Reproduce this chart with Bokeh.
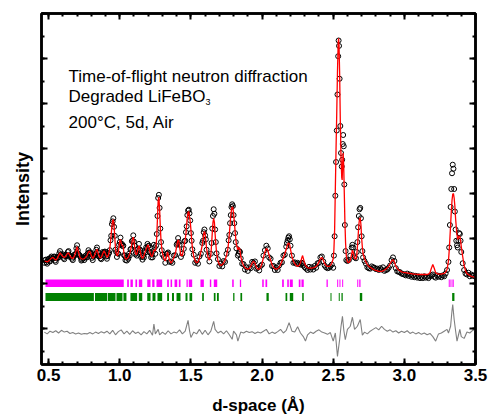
from bokeh.plotting import figure
from bokeh.models import LinearAxis, FixedTicker, Label, Range1d, NumeralTickFormatter
from bokeh.embed import file_html
from bokeh.resources import INLINE

# ---------------- data ----------------
dA = [0.47,0.48,0.49,0.50,0.51,0.52,0.53,0.54,0.55,0.56,0.57,0.58,0.59,0.60,0.61,0.62,0.63,0.64,0.65,0.66,
      0.67,0.68,0.69,0.70,0.71,0.72,0.73,0.74,0.75,0.76,0.77,0.78,0.79,0.80,0.81,0.82,0.83,0.84,0.85,0.86,
      0.87,0.88,0.89,0.90,0.91,0.92,0.93]
calcA = [1.50,1.49,1.48,1.50,1.53,1.56,1.58,1.55,1.52,1.55,1.62,1.68,1.64,1.60,1.58,1.60,1.66,1.68,1.62,1.57,
         1.56,1.60,1.70,1.82,1.70,1.58,1.55,1.54,1.55,1.58,1.62,1.70,1.72,1.62,1.56,1.60,1.70,1.76,1.65,1.57,
         1.58,1.66,1.73,1.66,1.58,1.62,1.78]
obsA = [1.46,1.53,1.44,1.55,1.49,1.60,1.55,1.60,1.48,1.59,1.58,1.72,1.62,1.65,1.54,1.64,1.62,1.72,1.59,1.61,
        1.52,1.64,1.66,1.85,1.66,1.62,1.51,1.58,1.52,1.62,1.58,1.74,1.68,1.66,1.52,1.64,1.66,1.80,1.61,1.61,
        1.54,1.70,1.69,1.70,1.55,1.66,1.74]
# additional observed points between the ones above (dense low-d data)
dA2 = [0.475,0.485,0.495,0.505,0.515,0.525,0.535,0.545,0.555,0.565,0.575,0.585,0.595,0.605,0.615,0.625,
       0.635,0.645,0.655,0.665,0.675,0.685,0.695,0.705,0.715,0.725,0.735,0.745,0.755,0.765,0.775,0.785,
       0.795,0.805,0.815,0.825,0.835,0.845,0.855,0.865,0.875,0.885,0.895,0.905,0.915,0.925]
obsA2 = [1.52,1.47,1.52,1.50,1.57,1.55,1.59,1.51,1.56,1.57,1.67,1.64,1.63,1.57,1.61,1.61,
         1.70,1.63,1.60,1.55,1.59,1.63,1.78,1.74,1.63,1.58,1.53,1.56,1.58,1.59,1.67,1.69,
         1.69,1.57,1.60,1.63,1.75,1.70,1.60,1.56,1.63,1.68,1.71,1.60,1.61,1.68]

dB = [0.935,0.940,0.945,0.950,0.955,0.960,0.965,0.970,0.975,0.980,
      0.985,0.990,0.995,1.000,1.005,1.010,1.015,1.020,1.025,1.030,
      1.035,1.040,1.045,1.050,1.055,1.060,1.065,1.070,1.075,1.080,
      1.085,1.090,1.095,1.100,1.105,1.110,1.115,1.120,1.125,1.130,
      1.135,1.140,1.145,1.150,1.155,1.160,1.165,1.170,1.175,1.180,
      1.185,1.190,1.195,1.200,1.205,1.210,1.215,1.220,1.225,1.230,
      1.235,1.240,1.245,1.250,1.255,1.260,1.265,1.270,1.275,1.280,
      1.285,1.290,1.295,1.300]
calcB = [1.92,2.10,2.28,2.40,2.42,2.30,2.02,1.78,1.66,1.62,
         1.63,1.70,1.82,1.95,1.98,1.90,1.84,1.86,1.80,1.66,
         1.58,1.55,1.54,1.55,1.56,1.58,1.62,1.66,1.72,1.80,
         1.90,1.98,2.03,1.96,1.80,1.68,1.64,1.66,1.72,1.80,
         1.84,1.80,1.70,1.62,1.58,1.56,1.58,1.62,1.68,1.72,
         1.76,1.80,1.84,1.86,1.80,1.72,1.66,1.62,1.60,1.62,
         1.68,1.74,1.75,1.72,1.80,2.05,2.45,2.85,2.92,2.65,
         2.25,1.95,1.78,1.68]
obsB = [1.96,2.06,2.32,2.38,2.45,2.26,2.06,1.75,1.70,1.59,
        1.67,1.66,1.86,1.92,2.02,1.87,1.88,1.83,1.84,1.63,
        1.62,1.52,1.58,1.51,1.60,1.55,1.66,1.62,1.76,1.77,
        1.94,1.95,2.07,1.93,1.84,1.65,1.68,1.62,1.76,1.77,
        1.88,1.76,1.74,1.59,1.62,1.53,1.62,1.58,1.72,1.69,
        1.80,1.77,1.88,1.83,1.84,1.69,1.70,1.58,1.64,1.58,
        1.72,1.86,1.80,1.66,1.84,2.10,2.50,2.90,2.97,2.68,
        2.22,1.92,1.74,1.64]

dC = [1.31,1.32,1.33,1.335,1.34,1.35,1.36,1.37,1.38,1.39,
      1.40,1.405,1.41,1.415,1.42,1.43,1.44,1.45,1.455,1.46,
      1.465,1.47,1.475,1.48,1.485,1.49,1.495,1.50,1.505,1.51,
      1.52,1.53,1.54,1.55,1.56,1.57,1.58,1.585,1.59,1.595,
      1.60,1.605,1.61,1.62,1.63,1.64,1.645,1.65,1.655,1.66,
      1.665,1.67,1.675,1.68,1.69,1.70,1.71,1.72,1.73,1.74,
      1.75,1.76,1.765,1.77,1.775,1.78,1.785,1.79,1.795,1.80,
      1.805,1.81,1.815,1.82,1.83,1.835,1.84,1.845,1.85,1.86,
      1.87,1.88,1.89,1.90,1.91,1.92,1.93,1.94,1.95,1.96,
      1.97,1.98,1.99,2.00,2.01,2.02,2.03,2.04,2.05,2.06,
      2.07,2.08,2.09,2.10,2.11,2.12,2.13,2.14,2.15,2.16,
      2.17,2.175,2.18,2.185,2.19,2.195,2.20,2.21,2.22,2.23,
      2.24,2.25,2.26,2.27,2.28,2.285,2.29,2.30,2.31,2.32,
      2.33,2.34,2.35,2.36,2.37,2.38,2.39,2.40,2.41,2.42,
      2.43,2.44,2.45,2.46,2.47,2.48,2.49,2.50]
calcC = [1.55,1.50,1.62,1.70,1.65,1.52,1.45,1.50,1.58,1.66,
         1.82,1.92,1.97,1.95,1.82,1.62,1.62,1.80,1.90,1.98,
         2.10,2.30,2.48,2.58,2.60,2.48,2.38,2.20,1.98,1.80,
         1.60,1.50,1.46,1.48,1.56,1.70,1.86,1.98,2.10,2.16,
         2.10,1.95,1.78,1.58,1.52,1.62,1.85,2.12,2.36,2.45,
         2.36,2.10,1.88,1.70,1.50,1.42,1.40,1.42,1.46,1.52,
         1.62,1.78,1.92,2.10,2.30,2.50,2.64,2.70,2.68,2.55,
         2.38,2.18,2.00,1.86,1.75,1.78,1.80,1.74,1.60,1.48,
         1.40,1.35,1.33,1.32,1.33,1.38,1.45,1.50,1.45,1.36,
         1.32,1.32,1.36,1.45,1.58,1.70,1.78,1.74,1.62,1.52,
         1.42,1.36,1.33,1.32,1.33,1.36,1.42,1.50,1.58,1.66,
         1.76,1.82,1.87,1.90,1.89,1.85,1.76,1.60,1.50,1.44,
         1.40,1.38,1.40,1.46,1.58,1.62,1.56,1.44,1.38,1.35,
         1.34,1.34,1.34,1.35,1.36,1.38,1.42,1.48,1.55,1.58,
         1.52,1.44,1.40,1.38,1.38,1.40,1.45,1.55]
obsC = [1.59,1.46,1.66,1.67,1.69,1.48,1.49,1.46,1.62,1.63,
        1.86,1.89,2.01,1.92,1.86,1.59,1.66,1.77,1.94,1.95,
        2.14,2.27,2.52,2.62,2.64,2.56,2.40,2.12,1.95,1.76,
        1.64,1.46,1.50,1.44,1.60,1.66,1.90,1.95,2.14,2.20,
        2.07,1.98,1.75,1.62,1.49,1.66,1.90,2.22,2.50,2.65,
        2.55,2.20,1.92,1.67,1.54,1.39,1.44,1.38,1.50,1.48,
        1.66,1.75,1.96,2.08,2.34,2.52,2.70,2.76,2.72,2.52,
        2.34,2.12,1.92,1.78,1.62,1.66,1.72,1.70,1.56,1.44,
        1.43,1.31,1.36,1.28,1.36,1.34,1.48,1.46,1.49,1.33,
        1.35,1.29,1.39,1.42,1.62,1.74,1.84,1.78,1.58,1.55,
        1.39,1.39,1.30,1.35,1.30,1.40,1.46,1.47,1.62,1.64,
        1.82,1.90,1.96,2.02,2.05,1.98,1.84,1.62,1.46,1.47,
        1.44,1.46,1.43,1.42,1.46,1.44,1.40,1.36,1.33,1.30,
        1.37,1.31,1.36,1.31,1.39,1.35,1.45,1.46,1.58,1.60,
        1.49,1.40,1.36,1.34,1.35,1.38,1.42,1.35]

dD = [2.505,2.51,2.515,2.52,2.525,2.53,2.535,2.538,2.541,2.545,
      2.55,2.555,2.56,2.563,2.567,2.57,2.574,2.578,2.582,2.587,
      2.592,2.60,2.61,2.62,2.63,2.635,2.64,2.65,2.66,2.665,
      2.67,2.675,2.68,2.685,2.69,2.695,2.70,2.705,2.71,2.72,
      2.73,2.74,2.75]
calcD = [1.75,2.20,3.10,4.00,4.80,5.70,6.35,6.45,6.30,5.70,
         4.60,3.80,3.35,3.30,3.70,3.90,3.60,3.00,2.40,1.90,
         1.62,1.48,1.46,1.52,1.66,1.74,1.70,1.56,1.54,1.62,
         1.80,2.05,2.30,2.44,2.46,2.30,2.00,1.80,1.66,1.55,
         1.48,1.42,1.38]
obsD = [1.62,2.05,2.95,3.70,4.40,5.20,6.05,6.40,6.28,5.55,
        4.50,3.90,3.60,3.75,4.10,4.30,4.05,3.20,2.30,1.72,
        1.52,1.50,1.52,1.62,1.80,1.86,1.80,1.58,1.56,1.70,
        1.92,2.25,2.50,2.65,2.68,2.45,2.05,1.72,1.58,1.50,
        1.44,1.36,1.34]

dE = [2.76,2.77,2.78,2.79,2.80,2.81,2.82,2.83,2.84,2.85,
      2.86,2.87,2.88,2.89,2.90,2.91,2.92,2.93,2.94,2.95,
      2.96,2.97,2.98,2.99,3.00,3.01,3.02,3.03,3.04,3.05,
      3.06,3.07,3.08,3.09,3.10,3.11,3.12,3.13,3.14,3.15,
      3.16,3.17,3.18,3.19,3.20,3.21,3.22,3.23,3.24,3.25,
      3.26,3.27,3.28,3.29,3.30]
calcE = [1.36,1.34,1.32,1.30,1.29,1.28,1.27,1.27,1.27,1.28,
         1.30,1.32,1.35,1.38,1.44,1.50,1.53,1.48,1.38,1.33,
         1.30,1.28,1.26,1.25,1.24,1.24,1.23,1.23,1.22,1.22,
         1.21,1.21,1.21,1.20,1.20,1.20,1.20,1.20,1.20,1.20,
         1.20,1.21,1.24,1.34,1.42,1.34,1.24,1.22,1.21,1.21,
         1.21,1.22,1.22,1.25,1.31]
obsE = [1.33,1.38,1.36,1.35,1.32,1.33,1.30,1.34,1.31,1.36,
        1.28,1.30,1.31,1.35,1.40,1.52,1.58,1.50,1.34,1.27,
        1.26,1.25,1.22,1.21,1.20,1.18,1.22,1.17,1.20,1.15,
        1.18,1.14,1.17,1.13,1.16,1.12,1.15,1.12,1.16,1.13,
        1.15,1.12,1.16,1.18,1.20,1.15,1.13,1.18,1.15,1.17,
        1.14,1.18,1.16,1.22,1.30]

dF = [3.31,3.315,3.32,3.325,3.33,3.335,3.34,3.345,3.35,3.355,
      3.36,3.365,3.37,3.375,3.38,3.385,3.39,3.395,3.40,3.41,
      3.42,3.43,3.44,3.45,3.46,3.47,3.48,3.49,3.50]
calcF = [1.50,1.72,2.00,2.30,2.60,2.85,2.98,3.00,2.90,2.72,
         2.45,2.25,2.08,1.98,2.02,2.06,2.04,1.96,1.82,1.60,
         1.40,1.28,1.22,1.20,1.18,1.16,1.15,1.14,1.13]
obsF = [1.48,1.80,2.30,2.70,3.10,3.45,3.64,3.55,3.10,2.60,
        2.20,1.95,1.85,1.80,1.95,2.12,2.10,1.95,1.70,1.45,
        1.30,1.22,1.20,1.24,1.16,1.20,1.17,1.18,1.15]

d_diff = [0.47,0.49,0.51,0.53,0.55,0.57,0.59,0.61,0.63,0.65,
          0.67,0.69,0.71,0.73,0.75,0.77,0.79,0.81,0.83,0.85,
          0.87,0.89,0.91,0.93,0.95,0.97,0.99,1.01,1.03,1.05,
          1.07,1.09,1.11,1.13,1.15,1.17,1.19,1.21,1.23,1.24,
          1.25,1.27,1.28,1.30,1.32,1.34,1.36,1.38,1.40,1.42,
          1.44,1.46,1.48,1.49,1.50,1.52,1.54,1.56,1.58,1.60,
          1.62,1.64,1.66,1.67,1.69,1.71,1.73,1.75,1.77,1.79,
          1.80,1.82,1.83,1.85,1.87,1.89,1.91,1.93,1.95,1.97,
          1.99,2.01,2.03,2.05,2.07,2.09,2.11,2.13,2.15,2.17,
          2.19,2.21,2.23,2.25,2.27,2.29,2.305,2.32,2.34,2.36,
          2.38,2.40,2.42,2.44,2.46,2.48,2.50,2.515,2.53,2.545,
          2.555,2.565,2.575,2.585,2.60,2.62,2.635,2.65,2.67,2.69,
          2.705,2.72,2.74,2.76,2.78,2.80,2.82,2.84,2.86,2.88,
          2.90,2.92,2.94,2.96,2.98,3.00,3.02,3.04,3.06,3.08,
          3.10,3.12,3.14,3.16,3.18,3.20,3.22,3.24,3.26,3.28,
          3.30,3.31,3.325,3.335,3.34,3.35,3.36,3.37,3.38,3.39,
          3.40,3.42,3.44,3.46,3.48,3.50]
I_diff = [-0.08,-0.12,-0.06,-0.09,-0.05,-0.10,-0.04,-0.08,-0.06,-0.11,
          -0.09,-0.12,-0.10,-0.13,-0.11,-0.12,-0.09,-0.12,-0.08,-0.11,
          -0.07,-0.10,-0.06,-0.12,-0.04,-0.14,-0.07,-0.03,-0.12,-0.06,
          -0.13,-0.05,-0.11,-0.08,-0.14,-0.07,-0.12,-0.04,-0.15,0.10,
          -0.12,-0.02,-0.14,-0.08,-0.13,-0.05,-0.12,-0.08,-0.10,-0.03,
          -0.12,-0.06,0.18,-0.04,-0.20,-0.08,-0.12,-0.02,-0.13,-0.04,
          -0.14,-0.06,0.16,-0.02,-0.10,-0.06,-0.12,-0.05,-0.14,-0.24,
          -0.06,-0.14,-0.28,-0.08,-0.10,-0.06,-0.09,-0.07,-0.11,-0.08,
          -0.10,-0.06,-0.02,-0.12,-0.08,-0.11,-0.07,-0.02,-0.10,-0.04,
          0.13,-0.06,-0.08,0.04,-0.10,-0.18,-0.28,-0.14,-0.08,-0.11,
          -0.06,-0.03,-0.08,-0.10,-0.13,-0.09,-0.28,-0.10,-0.62,-0.25,
          0.05,0.27,-0.05,-0.25,-0.02,0.05,0.25,-0.02,0.05,0.20,
          -0.15,-0.08,-0.12,-0.06,-0.02,0.02,-0.03,0.05,-0.02,-0.06,
          -0.03,-0.08,-0.05,-0.10,-0.06,-0.09,-0.05,-0.11,-0.08,-0.12,
          -0.09,-0.13,-0.10,-0.14,-0.11,-0.18,-0.28,-0.12,-0.10,-0.06,
          -0.02,-0.10,0.05,0.40,0.53,0.20,-0.05,-0.28,-0.15,-0.02,
          -0.18,-0.22,-0.08,-0.10,-0.04,-0.03]

mag_left = [0.478,1.052,1.075,1.110,1.134,1.193,1.228,1.258,1.333,1.357,1.385,1.415,1.469,1.485,1.567,
            1.633,1.661,1.790,1.844,2.001,2.024,2.141,2.177,2.195,2.258,2.277,2.453,2.528,2.544,2.563,
            2.669,2.683,3.312,3.324,3.338]
mag_right = [1.028,1.064,1.092,1.122,1.158,1.216,1.244,1.298,1.345,1.368,1.404,1.427,1.478,1.509,1.591,
             1.643,1.685,1.801,1.853,2.012,2.036,2.153,2.188,2.216,2.270,2.293,2.462,2.535,2.551,2.570,
             2.676,2.692,3.319,3.331,3.347]
grn_left = [0.478,0.826,0.917,0.977,1.026,1.075,1.134,1.193,1.230,1.265,1.333,1.367,1.399,1.462,1.490,
            1.579,1.661,1.683,1.797,1.848,2.031,2.165,2.195,2.282,2.481,2.539,2.558,2.687,3.336]
grn_right = [0.818,0.912,0.970,1.019,1.047,1.122,1.158,1.216,1.251,1.298,1.346,1.381,1.427,1.476,1.509,
             1.591,1.673,1.696,1.806,1.860,2.047,2.177,2.219,2.293,2.488,2.546,2.567,2.704,3.352]
mag_band = (0.92, 1.09)
grn_band = (0.61, 0.79)

d_obs = dA + dA2 + dB + dC + dD + dE + dF
I_obs = obsA + obsA2 + obsB + obsC + obsD + obsE + obsF
d_calc = dA + dB + dC + dD + dE + dF
I_calc = calcA + calcB + calcC + calcD + calcE + calcF

FONT = "Liberation Sans"
X0, X1, Y0, Y1 = 0.45, 3.5, -0.8, 7.0

p = figure(width=488, height=418, x_range=Range1d(X0, X1), y_range=Range1d(Y0, Y1),
           output_backend="svg", toolbar_location=None,
           min_border_left=41, min_border_right=13, min_border_top=13, min_border_bottom=54)
p.grid.visible = False
p.outline_line_color = "black"
p.outline_line_width = 2.5

xmaj = [0.5, 1.0, 1.5, 2.0, 2.5, 3.0, 3.5]
xmin = [round(0.5 + 0.1 * i, 1) for i in range(31)]
ymaj = [0, 1, 2, 3, 4, 5, 6, 7]
ymin = [0.5 * k for k in range(-1, 15)]


def style_axis(ax, show_labels):
    ax.axis_line_width = 2.5
    ax.axis_line_color = "black"
    ax.major_tick_in = 6
    ax.major_tick_out = 0
    ax.minor_tick_in = 3
    ax.minor_tick_out = 0
    ax.major_tick_line_width = 2
    ax.minor_tick_line_width = 2
    ax.major_tick_line_color = "black"
    ax.minor_tick_line_color = "black"
    if not show_labels:
        ax.major_label_text_color = None
        ax.major_label_text_font_size = "0px"
        ax.major_label_standoff = 0


xb = p.xaxis[0]
xb.ticker = FixedTicker(ticks=xmaj, minor_ticks=xmin)
xb.formatter = NumeralTickFormatter(format="0.0")
style_axis(xb, True)
xb.major_label_text_font = FONT
xb.major_label_text_font_style = "bold"
xb.major_label_text_font_size = "17px"
xb.major_label_text_color = "black"
xb.major_label_standoff = 4
xb.axis_label = "d-space (Å)"
xb.axis_label_text_font = FONT
xb.axis_label_text_font_style = "bold"
xb.axis_label_text_font_size = "17px"
xb.axis_label_text_color = "black"
xb.axis_label_standoff = 12

yl = p.yaxis[0]
yl.ticker = FixedTicker(ticks=ymaj, minor_ticks=ymin)
style_axis(yl, False)
yl.axis_label = "Intensity"
yl.axis_label_text_font = FONT
yl.axis_label_text_font_style = "bold"
yl.axis_label_text_font_size = "18px"
yl.axis_label_text_color = "black"
yl.axis_label_standoff = 9

xt = LinearAxis(ticker=FixedTicker(ticks=xmaj, minor_ticks=xmin))
style_axis(xt, False)
p.add_layout(xt, "above")
yr = LinearAxis(ticker=FixedTicker(ticks=ymaj, minor_ticks=ymin))
style_axis(yr, False)
p.add_layout(yr, "right")

p.quad(left=mag_left, right=mag_right, bottom=mag_band[0], top=mag_band[1],
       fill_color="#FF00FF", line_color=None)
p.quad(left=grn_left, right=grn_right, bottom=grn_band[0], top=grn_band[1],
       fill_color="#008000", line_color=None)

p.line(d_diff, I_diff, line_color="#808080", line_width=1.1)

p.scatter(d_obs, I_obs, marker="circle", size=5, fill_color=None, line_color="black", line_width=1.0)
p.line(d_calc, I_calc, line_color="#FF0000", line_width=1.3)

p.add_layout(Label(x=0.64, y=5.61, text="Time-of-flight neutron diffraction", text_font=FONT,
                   text_font_size="17px", text_color="black", text_baseline="alphabetic"))
p.add_layout(Label(x=0.64, y=5.16, text="Degraded LiFeBO", text_font=FONT,
                   text_font_size="17px", text_color="black", text_baseline="alphabetic"))
p.add_layout(Label(x=1.603, y=5.03, text="3", text_font=FONT,
                   text_font_size="9px", text_color="black", text_baseline="alphabetic"))
p.add_layout(Label(x=0.64, y=4.575, text="200°C, 5d, Air", text_font=FONT,
                   text_font_size="17px", text_color="black", text_baseline="alphabetic"))

open("out.html", "w").write(file_html(p, INLINE))
